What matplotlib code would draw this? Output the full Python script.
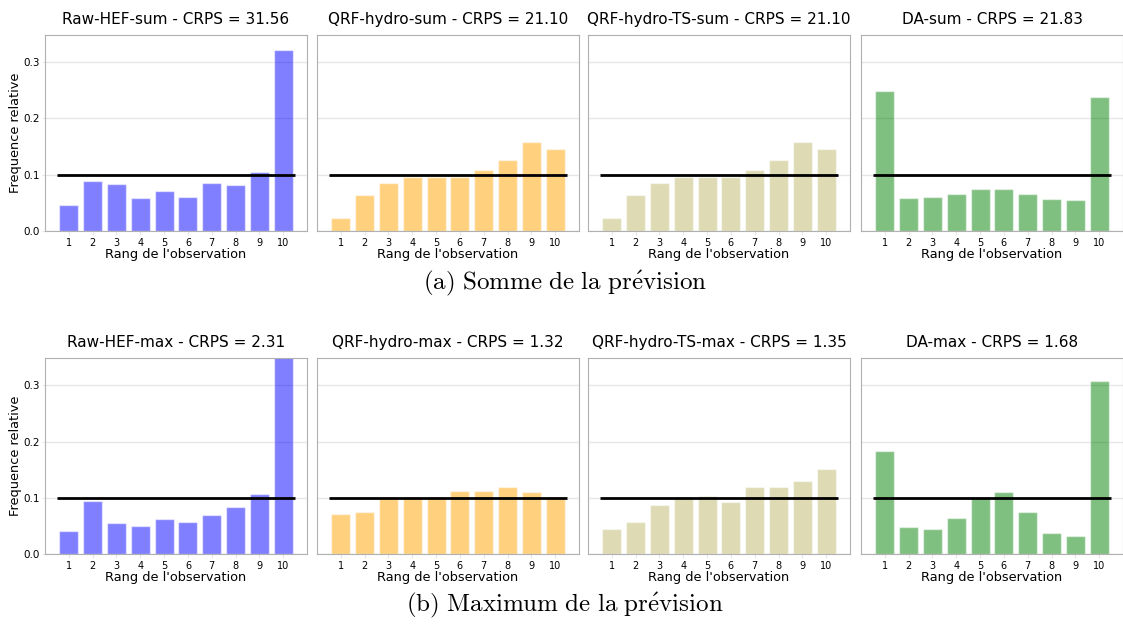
import matplotlib
matplotlib.use("Agg")
import matplotlib.pyplot as plt
import numpy as np

rangs = np.arange(1, 11)

titres_sum = ["Raw-HEF-sum - CRPS = 31.56", "QRF-hydro-sum - CRPS = 21.10",
              "QRF-hydro-TS-sum - CRPS = 21.10", "DA-sum - CRPS = 21.83"]
titres_max = ["Raw-HEF-max - CRPS = 2.31", "QRF-hydro-max - CRPS = 1.32",
              "QRF-hydro-TS-max - CRPS = 1.35", "DA-max - CRPS = 1.68"]

raw_sum = [0.046, 0.089, 0.084, 0.058, 0.071, 0.060, 0.085, 0.081, 0.105, 0.322]
qrf_sum = [0.023, 0.064, 0.085, 0.096, 0.096, 0.096, 0.109, 0.126, 0.158, 0.145]
qrfts_sum = [0.023, 0.063, 0.085, 0.096, 0.096, 0.096, 0.109, 0.126, 0.157, 0.145]
da_sum = [0.249, 0.058, 0.060, 0.066, 0.074, 0.074, 0.066, 0.057, 0.054, 0.237]

raw_max = [0.041, 0.095, 0.056, 0.050, 0.063, 0.057, 0.069, 0.084, 0.107, 0.378]
qrf_max = [0.071, 0.075, 0.100, 0.100, 0.100, 0.112, 0.112, 0.120, 0.111, 0.100]
qrfts_max = [0.044, 0.057, 0.087, 0.100, 0.103, 0.093, 0.120, 0.119, 0.130, 0.151]
da_max = [0.183, 0.049, 0.044, 0.064, 0.101, 0.110, 0.075, 0.038, 0.033, 0.308]

couleurs = ["blue", "orange", "darkkhaki", "green"]

fig = plt.figure(figsize=(11.23, 6.24), dpi=100)

lefts = [0.0401, 0.2823, 0.5236, 0.7667]
w = 0.2333
h = 0.314

rows = [(0.630, titres_sum, [raw_sum, qrf_sum, qrfts_sum, da_sum]),
        (0.112, titres_max, [raw_max, qrf_max, qrfts_max, da_max])]

for bottom, titres, series in rows:
    for i in range(4):
        ax = fig.add_axes([lefts[i], bottom, w, h])
        ax.set_axisbelow(True)
        ax.yaxis.grid(True, color="#e6e6e6", lw=1)
        ax.bar(rangs, series[i], width=0.8, color=couleurs[i], alpha=0.5,
               edgecolor="white", linewidth=1)
        ax.hlines(0.1, 0.5, 10.5, color="black", lw=2)
        ax.set_ylim(0, 0.348)
        ax.set_xticks(rangs)
        ax.set_xticklabels([str(r) for r in rangs], fontsize=7)
        ax.set_yticks([0.0, 0.1, 0.2, 0.3])
        ax.tick_params(axis="both", length=3, color="#e6e6e6", pad=2)
        ax.tick_params(axis="y", labelsize=7.5, length=2, pad=1.5)
        for s in ax.spines.values():
            s.set_color("#b0b0b0")
        ax.set_title(titres[i], fontsize=11, pad=8)
        ax.set_xlabel("Rang de l'observation", fontsize=9.3, labelpad=0)
        if i == 0:
            ax.set_ylabel("Frequence relative", fontsize=9.3, labelpad=1)
        else:
            ax.set_yticklabels([])
            ax.tick_params(axis="y", length=0)

fig.text(0.503, 0.546, r"$\mathrm{(a)\ Somme\ de\ la\ pr\acute{e}vision}$",
         ha="center", va="center", fontsize=18, math_fontfamily="cm")
fig.text(0.503, 0.030, r"$\mathrm{(b)\ Maximum\ de\ la\ pr\acute{e}vision}$",
         ha="center", va="center", fontsize=18, math_fontfamily="cm")

fig.savefig("out.png", dpi=100)
